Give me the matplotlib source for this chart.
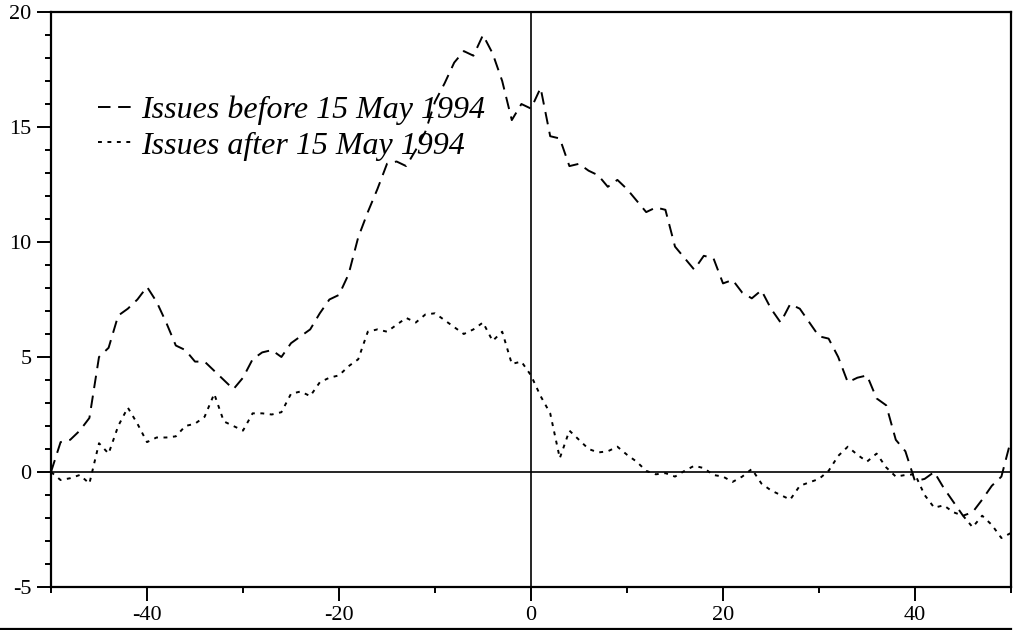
import numpy as np
import matplotlib
matplotlib.use("Agg")
import matplotlib.pyplot as plt
from matplotlib.ticker import MultipleLocator

plt.rcParams["font.family"] = ["Liberation Serif", "DejaVu Serif"]
plt.rcParams["lines.scale_dashes"] = False
plt.rcParams["axes.unicode_minus"] = False

days = np.arange(-50, 51)

before_1994 = [
    0.0, 1.3, 1.4, 1.8, 2.35, 5.0, 5.4, 6.8, 7.1, 7.5,
    8.05, 7.4, 6.5, 5.5, 5.3, 4.8, 4.8, 4.4, 4.0, 3.6,
    4.1, 4.9, 5.2, 5.3, 5.0, 5.6, 5.9, 6.2, 6.9, 7.5,
    7.7, 8.6, 10.2, 11.3, 12.3, 13.4, 13.5, 13.3, 14.0, 14.8,
    16.1, 16.9, 17.8, 18.3, 18.1, 19.0, 18.2, 17.0, 15.3, 16.0,
    15.8,
    16.7, 14.6, 14.5, 13.3, 13.4, 13.1, 12.9, 12.4, 12.7, 12.3,
    11.8, 11.3, 11.5, 11.4, 9.8, 9.3, 8.8, 9.4, 9.3, 8.2,
    8.35, 7.8, 7.55, 7.9, 7.1, 6.5, 7.3, 7.1, 6.5, 5.9,
    5.8, 5.0, 3.9, 4.1, 4.2, 3.2, 2.9, 1.4, 0.9, -0.4,
    -0.3, 0.0, -0.7, -1.3, -1.9, -1.75, -1.2, -0.6, -0.2, 1.4,
]

after_1994 = [
    0.0, -0.35, -0.27, -0.13, -0.5, 1.25, 0.8, 2.0, 2.8, 2.1,
    1.3, 1.5, 1.5, 1.55, 2.0, 2.1, 2.4, 3.4, 2.2, 2.0,
    1.8, 2.55, 2.55, 2.5, 2.6, 3.4, 3.5, 3.3, 3.9, 4.1,
    4.2, 4.6, 4.9, 6.1, 6.2, 6.1, 6.4, 6.7, 6.5, 6.85,
    6.9, 6.6, 6.3, 6.0, 6.2, 6.5, 5.7, 6.1, 4.7, 4.8,
    4.2,
    3.3, 2.55, 0.6, 1.8, 1.4, 1.0, 0.85, 0.9, 1.1, 0.75,
    0.45, 0.05, -0.1, -0.05, -0.2, 0.05, 0.27, 0.17, -0.13, -0.2,
    -0.43, -0.2, 0.13, -0.5, -0.8, -1.0, -1.2, -0.6, -0.45, -0.3,
    0.05, 0.7, 1.1, 0.75, 0.45, 0.8, 0.2, -0.2, -0.13, -0.1,
    -1.0, -1.55, -1.45, -1.75, -1.9, -2.4, -1.9, -2.3, -2.87, -2.65,
]

labels = ["Issues before 15 May 1994", "Issues after 15 May 1994"]

fig = plt.figure(figsize=(10.34, 6.3), dpi=100)
ax = fig.add_axes([51 / 1034, 1 - 587 / 630, 960 / 1034, 575 / 630])

ax.plot(days, before_1994, color="black", lw=1.4, dashes=(9, 5.5), label=labels[0])
ax.plot(days, after_1994, color="black", lw=1.4, dashes=(2.8, 4), label=labels[1])

ax.axhline(0, color="black", lw=1.2, zorder=1)
ax.axvline(0, color="black", lw=1.2, zorder=1)

ax.set_xlim(-50, 50)
ax.set_ylim(-5, 20)
ax.xaxis.set_minor_locator(MultipleLocator(10))
ax.yaxis.set_major_locator(MultipleLocator(5))
ax.yaxis.set_minor_locator(MultipleLocator(1))
ax.set_xticks([-40, -20, 0, 20, 40])
ax.tick_params(which="major", direction="out", length=10, width=1.4,
               labelsize=16, pad=4)
ax.tick_params(axis="x", which="major", pad=4)
ax.tick_params(which="minor", direction="out", length=4.3, width=1.4)
for s in ax.spines.values():
    s.set_linewidth(1.6)

leg = ax.legend(loc="upper left", bbox_to_anchor=(0.049, 0.855), frameon=False,
                handlelength=1.06, handletextpad=0.3, labelspacing=0.2,
                borderaxespad=0, borderpad=0,
                prop={"family": "Liberation Serif", "style": "italic", "size": 23})

fig.add_artist(plt.Line2D([0, 1011 / 1034], [1.5 / 630, 1.5 / 630],
                          color="black", lw=1.6, transform=fig.transFigure))

fig.savefig("out.png", dpi=100)
